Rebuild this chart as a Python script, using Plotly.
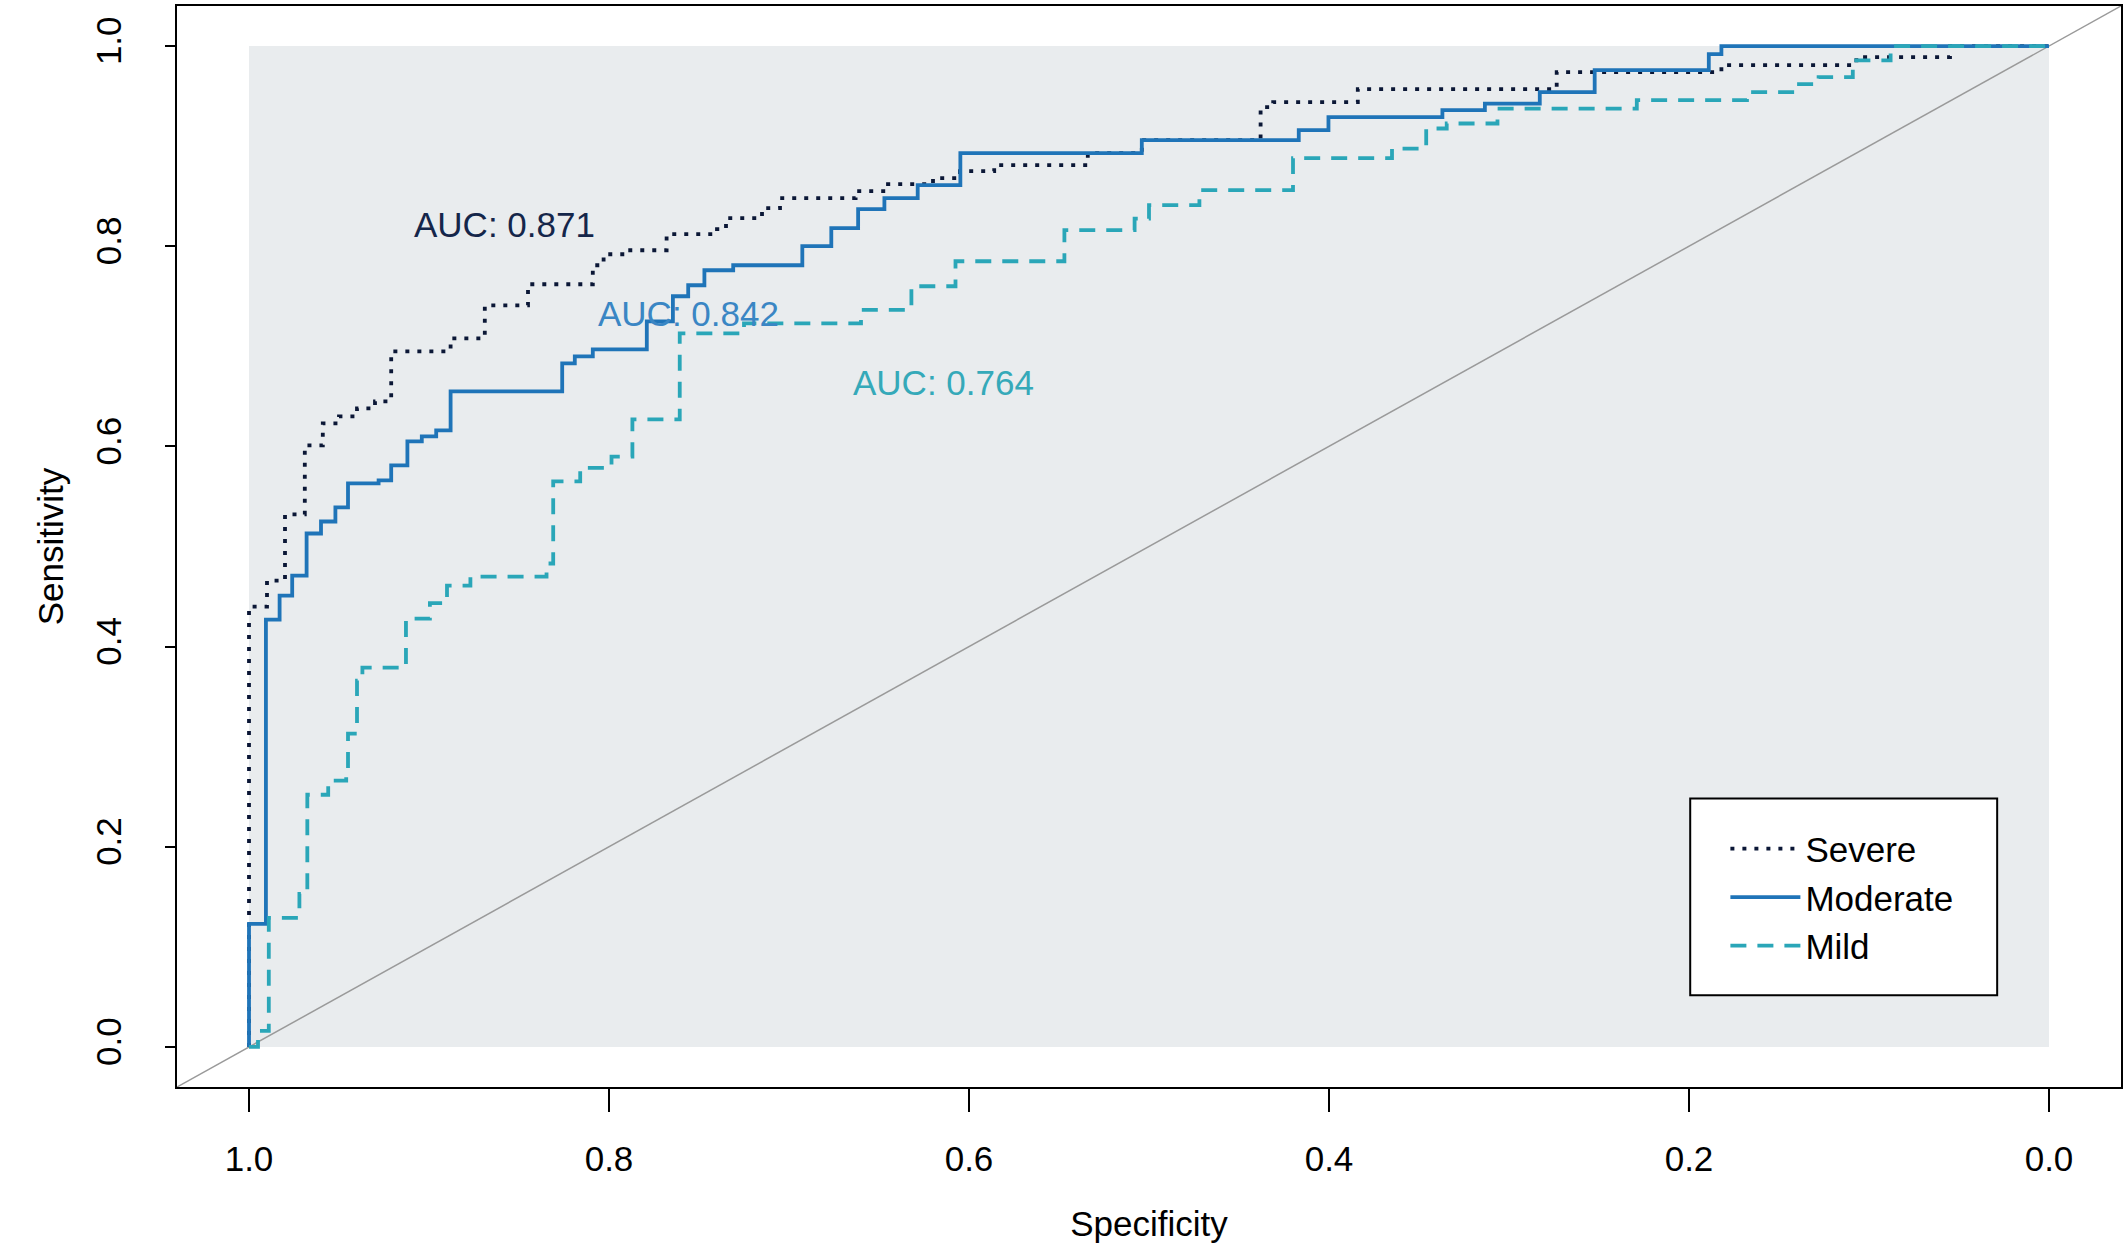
import plotly.graph_objects as go

# ROC curves: (specificity, sensitivity) at each step corner
severe_spec = [1.0, 1.0, 0.990, 0.980, 0.969, 0.959, 0.950, 0.940, 0.930, 0.921,
               0.888, 0.869, 0.845, 0.809, 0.803, 0.790, 0.768, 0.740, 0.735,
               0.715, 0.705, 0.663, 0.645, 0.620, 0.605, 0.586, 0.534, 0.504,
               0.438, 0.431, 0.384, 0.2735, 0.182, 0.107, 0.055, 0.0]
severe_sens = [0.0, 0.440, 0.466, 0.532, 0.601, 0.623, 0.630, 0.638, 0.645, 0.695,
               0.708, 0.741, 0.762, 0.781, 0.792, 0.796, 0.812, 0.817, 0.828,
               0.838, 0.848, 0.855, 0.862, 0.868, 0.875, 0.881, 0.893, 0.906,
               0.939, 0.944, 0.957, 0.974, 0.981, 0.989, 1.0, 1.0]

moderate_spec = [1.0, 1.0, 0.9906, 0.983, 0.976, 0.968, 0.960, 0.952, 0.945, 0.928,
                 0.921, 0.912, 0.904, 0.896, 0.888, 0.826, 0.819, 0.809, 0.779,
                 0.7645, 0.756, 0.747, 0.731, 0.6926, 0.6765, 0.6616, 0.647,
                 0.6285, 0.6048, 0.504, 0.4168, 0.4003, 0.337, 0.3134, 0.2829,
                 0.2524, 0.189, 0.182, 0.0]
moderate_sens = [0.0, 0.123, 0.427, 0.451, 0.471, 0.513, 0.525, 0.539, 0.563, 0.566,
                 0.581, 0.605, 0.610, 0.616, 0.655, 0.683, 0.690, 0.697, 0.725,
                 0.750, 0.761, 0.776, 0.781, 0.800, 0.818, 0.837, 0.848,
                 0.861, 0.893, 0.906, 0.916, 0.929, 0.936, 0.9425, 0.954,
                 0.976, 0.992, 1.0, 1.0]

mild_spec = [1.0, 0.995, 0.989, 0.972, 0.9676, 0.956, 0.946, 0.945, 0.940, 0.937,
             0.9128, 0.8995, 0.890, 0.877, 0.8347, 0.831, 0.816, 0.7986, 0.787,
             0.7607, 0.725, 0.660, 0.632, 0.6075, 0.547, 0.508, 0.500, 0.472,
             0.420, 0.365, 0.346, 0.3346, 0.3064, 0.229, 0.1678, 0.140, 0.128,
             0.109, 0.088, 0.0]
mild_sens = [0.0, 0.016, 0.129, 0.153, 0.252, 0.266, 0.275, 0.313, 0.366, 0.379,
             0.428, 0.4435, 0.461, 0.470, 0.483, 0.565, 0.5786, 0.5897, 0.627,
             0.713, 0.723, 0.7365, 0.760, 0.785, 0.816, 0.8275, 0.841, 0.856,
             0.888, 0.8976, 0.9176, 0.9226, 0.9375, 0.946, 0.954, 0.962, 0.969,
             0.9857, 1.0, 1.0]

groups = ["Severe", "Moderate", "Mild"]
auc = [0.871, 0.842, 0.764]
ticks = [0.0, 0.2, 0.4, 0.6, 0.8, 1.0]

colors = {"Severe": "#0B1736", "Moderate": "#1F74B8", "Mild": "#2AA6B8"}
text_colors = {"Severe": "#15264A", "Moderate": "#3A86C4", "Mild": "#35A9B9"}
dashes = {"Severe": "4px,8px", "Moderate": "solid", "Mild": "16px,11px"}
curves = {
    "Severe": (severe_spec, severe_sens),
    "Moderate": (moderate_spec, moderate_sens),
    "Mild": (mild_spec, mild_sens),
}
# where the AUC labels sit (data coords)
auc_pos = {"Severe": (0.858, 0.822), "Moderate": (0.756, 0.733), "Mild": (0.614, 0.664)}

FONT = "Liberation Sans, Arial, sans-serif"
xr = [1.04, -0.04]
yr = [-0.04, 1.04]

fig = go.Figure()

# chance line across the whole box
fig.add_trace(go.Scatter(x=xr, y=[yr[0], yr[1]], mode="lines",
                         line=dict(color="#9A9A9A", width=1.5),
                         showlegend=False, hoverinfo="skip"))

for g in groups:
    sx, sy = curves[g]
    fig.add_trace(go.Scatter(
        x=sx, y=sy, name=g, mode="lines",
        line=dict(color=colors[g], width=3.8, dash=dashes[g], shape="hv"),
    ))

for g, a in zip(groups, auc):
    px_, py_ = auc_pos[g]
    fig.add_annotation(x=px_, y=py_, text="AUC: %.3f" % a, showarrow=False,
                       font=dict(family=FONT, size=35, color=text_colors[g]),
                       xanchor="center", yanchor="middle")

# grey panel behind the curves
fig.add_shape(type="rect", x0=0, x1=1, y0=0, y1=1, xref="x", yref="y",
              fillcolor="#E9ECEE", line_width=0, layer="below")
# legend box
fig.add_shape(type="rect", xref="paper", yref="paper",
              x0=0.7784, x1=0.9363, y0=0.0849, y1=0.2669,
              fillcolor="white", line=dict(color="black", width=2), layer="above")

fig.update_xaxes(range=xr, tickvals=ticks, ticktext=["%.1f" % t for t in ticks],
                 ticks="outside", ticklen=23, tickwidth=1.5, tickcolor="black",
                 showline=True, linecolor="black", linewidth=2, mirror=True,
                 showgrid=False, zeroline=False, ticklabelstandoff=17,
                 tickfont=dict(family=FONT, size=35, color="black"),
                 title=dict(text="Specificity", standoff=34,
                            font=dict(family=FONT, size=35, color="black")))
fig.update_yaxes(range=yr, tickvals=ticks, ticktext=["%.1f" % t for t in ticks],
                 ticks="outside", ticklen=10, tickwidth=1.5, tickcolor="black",
                 showline=True, linecolor="black", linewidth=2, mirror=True,
                 showgrid=False, zeroline=False, tickangle=-90, ticklabelstandoff=30,
                 tickfont=dict(family=FONT, size=35, color="black"),
                 title=dict(text="Sensitivity", standoff=15,
                            font=dict(family=FONT, size=35, color="black")))

fig.update_layout(
    width=2127, height=1245,
    margin=dict(l=177, r=6, t=4, b=158),
    paper_bgcolor="white", plot_bgcolor="white",
    legend=dict(x=0.7965, y=0.2476, xanchor="left", yanchor="top",
                bgcolor="rgba(0,0,0,0)", borderwidth=0,
                font=dict(family=FONT, size=35, color="black"),
                itemwidth=70, tracegroupgap=0),
)

fig.write_html("out.html", config={"displayModeBar": False},
               post_script="document.body.style.margin='0';")
